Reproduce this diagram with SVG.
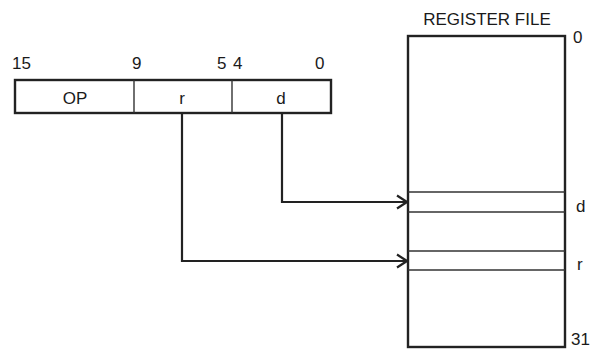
<svg xmlns="http://www.w3.org/2000/svg" width="592" height="349" viewBox="0 0 592 349">
<style>
text{font-family:"Liberation Sans",Arial,sans-serif;font-size:17px;fill:#1a1a1a}
.box{fill:#fff;stroke:#222;stroke-width:2.4}
.thin{stroke:#333;stroke-width:1.4;fill:none}
.conn{stroke:#222;stroke-width:2.2;fill:none}
</style>
<defs>
<marker id="arr" viewBox="0 0 12 16" refX="11" refY="8" markerWidth="12" markerHeight="16" markerUnits="userSpaceOnUse" orient="auto">
<path d="M1,1.5 L11,8 L1,14.5" fill="none" stroke="#222" stroke-width="2.2"/>
</marker>
</defs>
<rect width="592" height="349" fill="#fff"/>
<g id="instruction">
<rect class="box" x="15" y="80" width="316" height="33"/>
<line class="thin" x1="134" y1="80" x2="134" y2="113"/>
<line class="thin" x1="232" y1="80" x2="232" y2="113"/>
<text x="75" y="104" text-anchor="middle">OP</text>
<text x="182" y="104" text-anchor="middle">r</text>
<text x="281" y="104" text-anchor="middle">d</text>
<text x="12" y="69">15</text>
<text x="132" y="69">9</text>
<text x="217" y="69">5</text>
<text x="233" y="69">4</text>
<text x="315" y="69">0</text>
</g>
<g id="register-file">
<text x="487" y="25" text-anchor="middle">REGISTER FILE</text>
<rect class="box" x="408" y="36" width="157" height="311"/>
<line class="thin" x1="408" y1="192" x2="565" y2="192"/>
<line class="thin" x1="408" y1="212" x2="565" y2="212"/>
<line class="thin" x1="408" y1="251" x2="565" y2="251"/>
<line class="thin" x1="408" y1="270" x2="565" y2="270"/>
<text x="573" y="43">0</text>
<text x="576" y="212">d</text>
<text x="577" y="270">r</text>
<text x="571" y="345" font-size="16">31</text>
</g>
<g id="connectors">
<polyline class="conn" points="282,113 282,202 407,202" marker-end="url(#arr)"/>
<polyline class="conn" points="182,113 182,261 407,261" marker-end="url(#arr)"/>
</g>
</svg>
